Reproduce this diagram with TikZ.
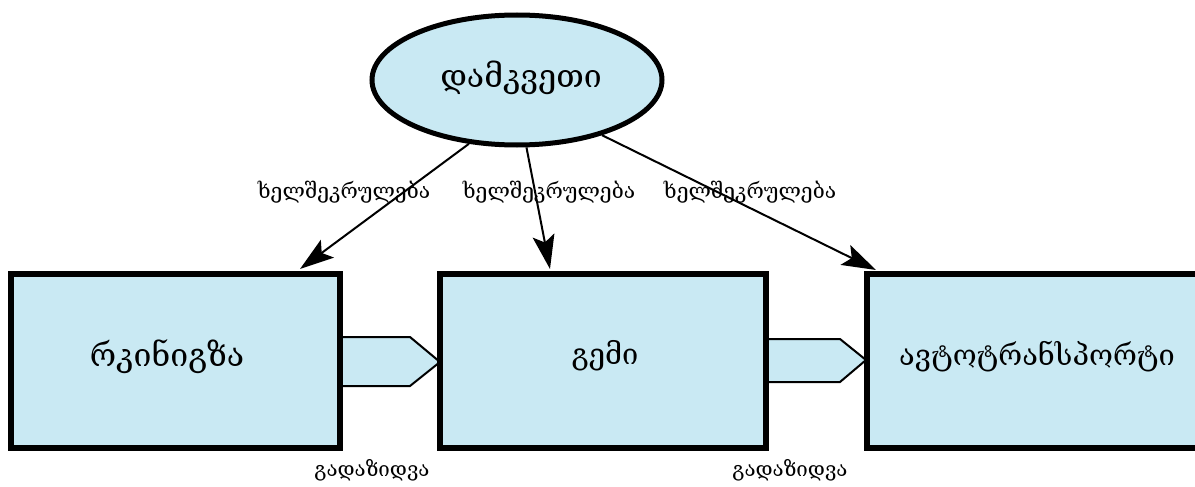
\documentclass[tikz,border=0pt]{standalone}
\usepackage{fontspec}
\setmainfont{DejaVu Serif}
\usetikzlibrary{arrows.meta,calc,shapes.geometric}
\definecolor{boxfill}{HTML}{C9E9F3}
\tikzset{
  unitbox/.style={draw=black,line width=6pt,fill=boxfill,inner sep=0pt,anchor=north west},
  conn/.style={line width=2pt,-{Stealth[length=34pt,width=22pt,inset=7pt]}},
  flow/.style={draw=black,line width=2pt,fill=boxfill},
  lbl/.style={font=\fontsize{21}{24}\selectfont,inner sep=0pt},
  blbl/.style={font=\fontsize{20.5}{24}\selectfont,inner sep=0pt}
}
\begin{document}
\begin{tikzpicture}[x=1pt,y=-1pt]
\useasboundingbox (0,0) rectangle (1195,487);
% flow pentagons (behind boxes)
\coordinate (p1a) at (330,337);
\coordinate (p1b) at (410,337);
\coordinate (p1c) at (440,362);
\coordinate (p1d) at (410,386);
\coordinate (p1e) at (330,386);
\filldraw[flow] (p1a) -- (p1b) -- (p1c) -- (p1d) -- (p1e);
\coordinate (p2a) at (760,339);
\coordinate (p2b) at (840,339);
\coordinate (p2c) at (866,360);
\coordinate (p2d) at (840,382);
\coordinate (p2e) at (760,382);
\filldraw[flow] (p2a) -- (p2b) -- (p2c) -- (p2d) -- (p2e);
% boxes
\node[unitbox,minimum width=329pt,minimum height=174pt] (rail) at (8,271) {};
\node[font=\fontsize{32}{38}\selectfont] (railt) at (167,357) {რკინიგზა};
\node[unitbox,minimum width=326pt,minimum height=174pt] (ship) at (437,271) {};
\node[font=\fontsize{29}{34}\selectfont] (shipt) at (605,356) {გემი};
\node[unitbox,minimum width=345pt,minimum height=174pt] (auto) at (864,271) {};
\node[font=\fontsize{29}{34}\selectfont] (autot) at (1037,357) {ავტოტრანსპორტი};
% client ellipse
\node[ellipse,draw=black,line width=5pt,fill=boxfill,minimum width=290pt,minimum height=130pt,inner sep=0pt] (client) at (517,80) {};
\node[font=\fontsize{32}{38}\selectfont] (clientt) at (521,78) {დამკვეთი};
% connectors
\coordinate (t1) at (300,269);
\coordinate (t2) at (550,269);
\coordinate (t3) at (876,270);
\draw[conn] (client.233) -- (t1);
\draw[conn] (client.278) -- (t2);
\draw[conn] (client.327) -- (t3);
% labels
\node[lbl] (l1) at (344,192) {ხელშეკრულება};
\node[lbl] (l2) at (549,192) {ხელშეკრულება};
\node[lbl] (l3) at (750,192) {ხელშეკრულება};
\node[blbl] (g1) at (372,470) {გადაზიდვა};
\node[blbl] (g2) at (790,470) {გადაზიდვა};
\end{tikzpicture}
\end{document}
